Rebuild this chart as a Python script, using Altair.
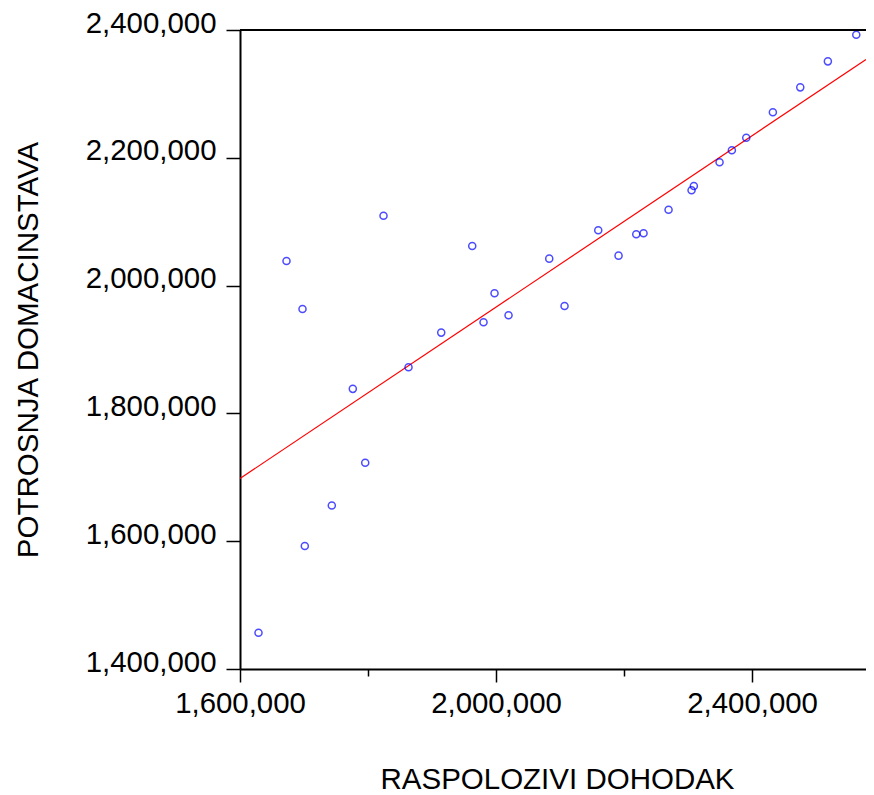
import altair as alt
import pandas as pd

# Scatter data
dohodak = [1628906, 1672656, 1697656, 1701250, 1743438, 1776250, 1795625, 1824219,
           1863281, 1914375, 1962813, 1980469, 1997656, 2019531, 2083125, 2107031,
           2159688, 2191406, 2219063, 2230469, 2269531, 2305469, 2309063, 2349219,
           2368438, 2390938, 2432500, 2475313, 2518438, 2562813]
potrosnja = [1456773, 2038581, 1963509, 1592372, 1655870, 1838389, 1722653, 2109430,
             1872328, 1926442, 2062041, 1942708, 1988064, 1953656, 2042178, 1968201,
             2086596, 2046870, 2080340, 2081904, 2118814, 2149156, 2155881, 2192948,
             2211716, 2231422, 2271148, 2310248, 2350912, 2392514]

# Fitted line (at both ends of the visible x range)
fit_x = [1600000, 2578000]
fit_y = [1698100, 2353900]

x_domain = [1600000, 2578000]
y_domain = [1400000, 2400000]
x_major = [1600000, 2000000, 2400000]
x_minor = [1800000, 2200000]
y_ticks = [1400000, 1600000, 1800000, 2000000, 2200000, 2400000]

FONT = "Liberation Sans"
W, H = 626, 639

df = pd.DataFrame({"x": dohodak, "y": potrosnja})
df_fit = pd.DataFrame({"x": fit_x, "y": fit_y})

xs = alt.Scale(domain=x_domain, nice=False, zero=False)
ys = alt.Scale(domain=y_domain, nice=False, zero=False)

y_axis = alt.Axis(
    values=y_ticks, format=",.0f", grid=False,
    domainColor="black", domainWidth=2, tickColor="black", tickWidth=1.5,
    tickSize=14, labelPadding=10, labelFont=FONT, labelFontSize=29.4,
    labelColor="black", labelBaseline="alphabetic", labelOffset=2,
    labelFlush=False, labelOverlap=False,
    title="POTROSNJA DOMACINSTAVA", titleFont=FONT, titleFontSize=29.5,
    titleFontWeight="normal", titleColor="black", titleAngle=270,
    titleX=-203, titleY=H / 2, titleAlign="center", titleBaseline="alphabetic",
)

x_axis_major = alt.Axis(
    orient="bottom", values=x_major, format=",.0f", grid=False,
    domainColor="black", domainWidth=2, tickColor="black", tickWidth=1.5,
    tickSize=13, labelPadding=30, labelFont=FONT, labelFontSize=29.4,
    labelColor="black", labelBaseline="alphabetic",
    labelFlush=False, labelOverlap=False,
    title="RASPOLOZIVI DOHODAK", titleFont=FONT, titleFontSize=29.5,
    titleFontWeight="normal", titleColor="black",
    titleX=(874 - 240) / 2, titleY=119, titleAlign="center", titleBaseline="alphabetic",
)

x_axis_minor = alt.Axis(
    orient="bottom", values=x_minor, grid=False, domain=False, labels=False,
    tickColor="black", tickWidth=1.5, tickSize=7, title=None,
)

points = alt.Chart(df).mark_point(
    shape="circle", filled=False, color="#0000FF", size=50, strokeWidth=1.5
).encode(
    x=alt.X("x:Q", scale=xs, axis=x_axis_major),
    y=alt.Y("y:Q", scale=ys, axis=y_axis),
)

line = alt.Chart(df_fit).mark_line(color="#FF0000", strokeWidth=1.2).encode(
    x=alt.X("x:Q", scale=xs, axis=x_axis_minor),
    y=alt.Y("y:Q", scale=ys, axis=y_axis),
)

top_border = alt.Chart(alt.Data(values=[{"k": 1}])).mark_rule(
    color="black", strokeWidth=2
).encode(
    x=alt.value(0), x2=alt.value(W), y=alt.value(0)
)

chart = alt.layer(line, points, top_border).resolve_axis(
    x="independent"
).properties(
    width=W, height=H,
    autosize=alt.AutoSizeParams(type="none"),
    padding={"left": 232, "top": 22, "right": 0, "bottom": 126},
).configure_view(stroke=None).configure(background="white")

chart.save("out.html", embed_options={"renderer": "svg", "actions": False})
